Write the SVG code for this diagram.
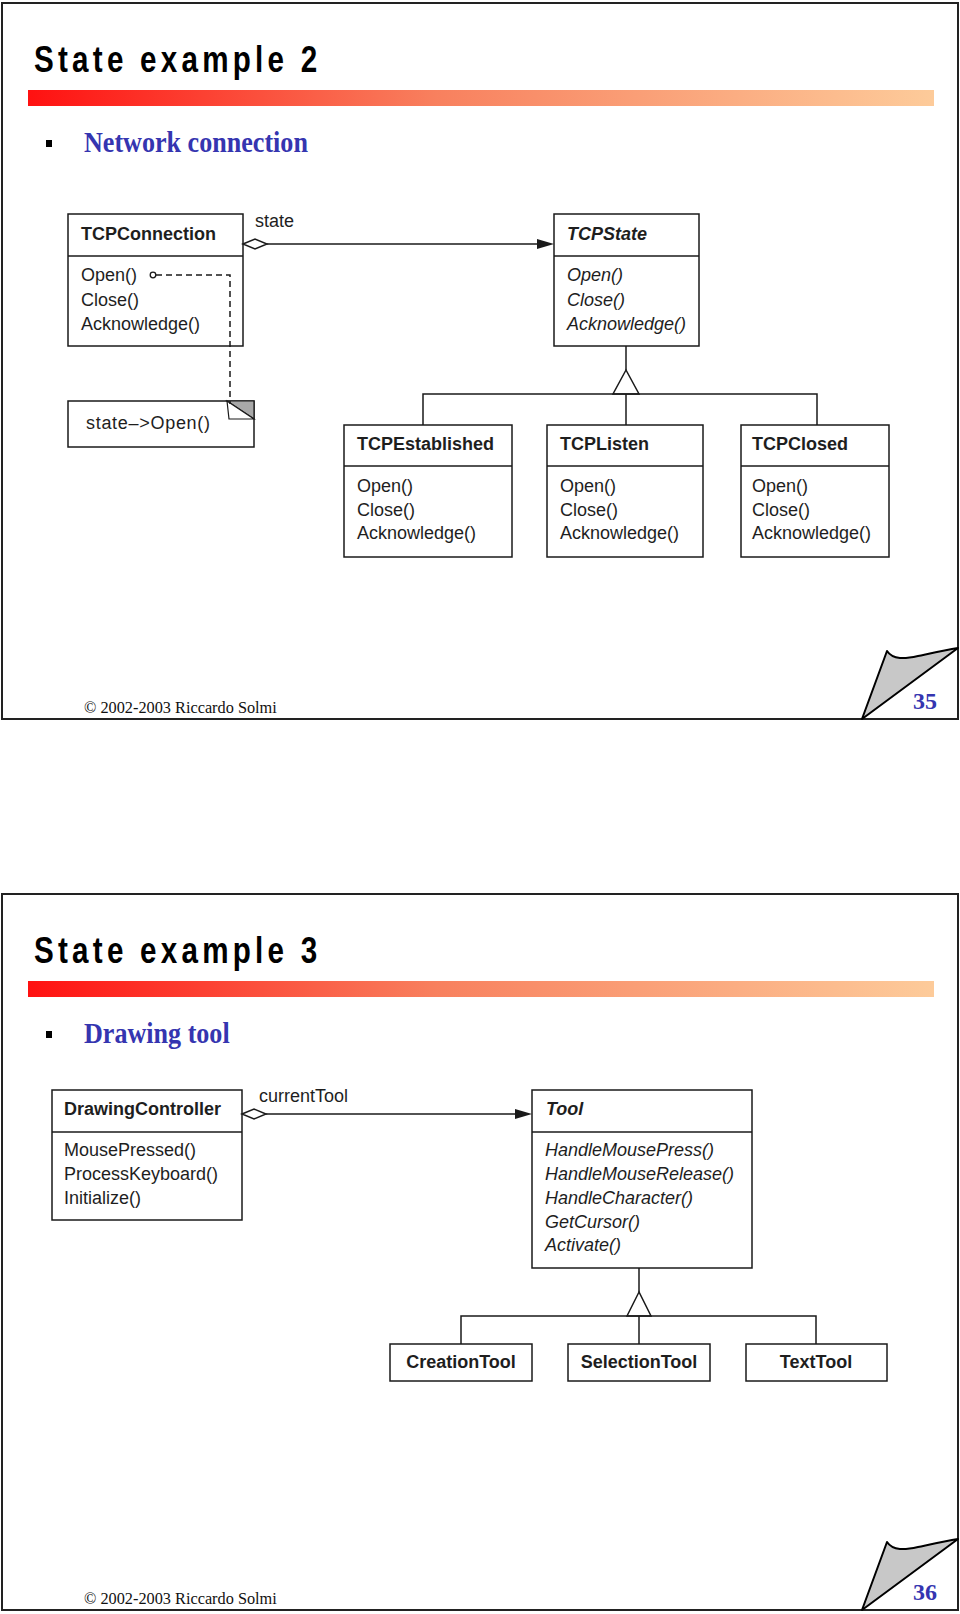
<svg xmlns="http://www.w3.org/2000/svg" width="960" height="1614" viewBox="0 0 960 1614">
<defs>
<linearGradient id="bar" x1="0" y1="0" x2="1" y2="0">
<stop offset="0" stop-color="#ff1111"/>
<stop offset="0.45" stop-color="#f8805e"/>
<stop offset="1" stop-color="#fdcb9a"/>
</linearGradient>
<style>
.frame{fill:#fff;stroke:#222;stroke-width:2}
.box{fill:#fff;stroke:#1a1a1a;stroke-width:1.5}
.ln{fill:none;stroke:#1a1a1a;stroke-width:1.5}
.dash{fill:none;stroke:#1a1a1a;stroke-width:1.5;stroke-dasharray:6 4}
.t{font-family:"Liberation Sans",Arial,sans-serif;font-size:18px;fill:#1e1e1e}
.b{font-weight:bold}
.i{font-style:italic}
.title{font-family:"Liberation Sans",Arial,sans-serif;font-weight:bold;font-size:37px;fill:#000}
.sub{font-family:"Liberation Serif","Times New Roman",serif;font-weight:bold;font-size:29px;fill:#3535b0}
.foot{font-family:"Liberation Serif","Times New Roman",serif;font-size:16.3px;fill:#111}
.pg{font-family:"Liberation Serif","Times New Roman",serif;font-weight:bold;font-size:24px;fill:#3535b0}
.curl{fill:#c8c8c8;stroke:#000;stroke-width:2;stroke-linejoin:round}
</style>
</defs>

<!-- Slide 1 -->
<g id="slide1">
<rect class="frame" x="2" y="3" width="956" height="716"/>
<g transform="translate(34,72) scale(0.8,1)"><text class="title" x="0" y="0" textLength="354" lengthAdjust="spacing">State example 2</text></g>
<rect x="28" y="90" width="906" height="16" fill="url(#bar)"/>
<rect x="46" y="140" width="6" height="7" fill="#000"/>
<g transform="translate(84,152) scale(0.9,1)"><text class="sub" x="0" y="0">Network connection</text></g>
<text class="foot" x="84" y="713">© 2002-2003 Riccardo Solmi</text>
<path class="curl" d="M862,719 L887,651 C893,660 905,659 918,656 C932,653 945,650 958,648 Z"/>
<text class="pg" x="913" y="709">35</text>
</g>

<g id="TCPConnection">
<rect class="box" x="68" y="214" width="175" height="132"/>
<line class="ln" x1="68" y1="256" x2="243" y2="256"/>
<text class="t b" x="81" y="240">TCPConnection</text>
<text class="t" x="81" y="281">Open()</text>
<text class="t" x="81" y="306">Close()</text>
<text class="t" x="81" y="330">Acknowledge()</text>
</g>

<g id="TCPState">
<rect class="box" x="554" y="214" width="145" height="132"/>
<line class="ln" x1="554" y1="256" x2="699" y2="256"/>
<text class="t b i" x="567" y="240">TCPState</text>
<text class="t i" x="567" y="281">Open()</text>
<text class="t i" x="567" y="306">Close()</text>
<text class="t i" x="567" y="330">Acknowledge()</text>
</g>

<g id="note">
<rect class="box" x="68" y="401" width="186" height="46"/>
<polygon points="227,401 254,401 254,419" fill="#a8a8a8" stroke="#1a1a1a" stroke-width="1.2"/>
<polygon points="227,401 229,419 254,419" fill="#fff" stroke="#1a1a1a" stroke-width="1.2"/>
<text class="t" x="86" y="429" textLength="124" lengthAdjust="spacing">state–&gt;Open()</text>
</g>

<g id="TCPEstablished">
<rect class="box" x="344" y="425" width="168" height="132"/>
<line class="ln" x1="344" y1="466" x2="512" y2="466"/>
<text class="t b" x="357" y="450">TCPEstablished</text>
<text class="t" x="357" y="492">Open()</text>
<text class="t" x="357" y="516">Close()</text>
<text class="t" x="357" y="539">Acknowledge()</text>
</g>

<g id="TCPListen">
<rect class="box" x="547" y="425" width="156" height="132"/>
<line class="ln" x1="547" y1="466" x2="703" y2="466"/>
<text class="t b" x="560" y="450">TCPListen</text>
<text class="t" x="560" y="492">Open()</text>
<text class="t" x="560" y="516">Close()</text>
<text class="t" x="560" y="539">Acknowledge()</text>
</g>

<g id="TCPClosed">
<rect class="box" x="741" y="425" width="148" height="132"/>
<line class="ln" x1="741" y1="466" x2="889" y2="466"/>
<text class="t b" x="752" y="450">TCPClosed</text>
<text class="t" x="752" y="492">Open()</text>
<text class="t" x="752" y="516">Close()</text>
<text class="t" x="752" y="539">Acknowledge()</text>
</g>

<!-- Slide 2 -->
<g id="slide2">
<rect class="frame" x="2" y="894" width="956" height="716"/>
<g transform="translate(34,963) scale(0.8,1)"><text class="title" x="0" y="0" textLength="354" lengthAdjust="spacing">State example 3</text></g>
<rect x="28" y="981" width="906" height="16" fill="url(#bar)"/>
<rect x="46" y="1031" width="6" height="7" fill="#000"/>
<g transform="translate(84,1043) scale(0.9,1)"><text class="sub" x="0" y="0">Drawing tool</text></g>
<text class="foot" x="84" y="1604">© 2002-2003 Riccardo Solmi</text>
<path class="curl" d="M862,1610 L887,1542 C893,1551 905,1550 918,1547 C932,1544 945,1541 958,1539 Z"/>
<text class="pg" x="913" y="1600">36</text>
</g>

<g id="DrawingController">
<rect class="box" x="52" y="1090" width="190" height="130"/>
<line class="ln" x1="52" y1="1132" x2="242" y2="1132"/>
<text class="t b" x="64" y="1115">DrawingController</text>
<text class="t" x="64" y="1156">MousePressed()</text>
<text class="t" x="64" y="1180">ProcessKeyboard()</text>
<text class="t" x="64" y="1204">Initialize()</text>
</g>

<g id="Tool">
<rect class="box" x="532" y="1090" width="220" height="178"/>
<line class="ln" x1="532" y1="1132" x2="752" y2="1132"/>
<text class="t b i" x="546" y="1115">Tool</text>
<text class="t i" x="545" y="1156">HandleMousePress()</text>
<text class="t i" x="545" y="1180">HandleMouseRelease()</text>
<text class="t i" x="545" y="1204">HandleCharacter()</text>
<text class="t i" x="545" y="1228">GetCursor()</text>
<text class="t i" x="545" y="1251">Activate()</text>
</g>

<g id="CreationTool">
<rect class="box" x="390" y="1344" width="142" height="37"/>
<text class="t b" x="461" y="1368" text-anchor="middle">CreationTool</text>
</g>
<g id="SelectionTool">
<rect class="box" x="568" y="1344" width="142" height="37"/>
<text class="t b" x="639" y="1368" text-anchor="middle">SelectionTool</text>
</g>
<g id="TextTool">
<rect class="box" x="746" y="1344" width="141" height="37"/>
<text class="t b" x="816" y="1368" text-anchor="middle">TextTool</text>
</g>

<g id="connectors">
<!-- slide 1 association -->
<polygon points="243,244 255,239 267,244 255,249" fill="#fff" stroke="#1a1a1a" stroke-width="1.5"/>
<line class="ln" x1="267" y1="244" x2="540" y2="244"/>
<polygon points="554,244 537,239 537,249" fill="#1a1a1a"/>
<text class="t" x="255" y="227">state</text>
<!-- dashed note link -->
<circle cx="153" cy="275" r="2.8" fill="#fff" stroke="#1a1a1a" stroke-width="1.3"/>
<polyline class="dash" points="156,275 230,275 230,404"/>
<!-- generalization 1 -->
<line class="ln" x1="626" y1="346" x2="626" y2="370"/>
<polygon points="626,370 613,394 639,394" fill="#fff" stroke="#1a1a1a" stroke-width="1.5"/>
<polyline class="ln" points="423,425 423,394 817,394 817,425"/>
<line class="ln" x1="626" y1="394" x2="626" y2="425"/>
<!-- slide 2 association -->
<polygon points="242,1114 254,1109 266,1114 254,1119" fill="#fff" stroke="#1a1a1a" stroke-width="1.5"/>
<line class="ln" x1="266" y1="1114" x2="518" y2="1114"/>
<polygon points="532,1114 515,1109 515,1119" fill="#1a1a1a"/>
<text class="t" x="259" y="1102">currentTool</text>
<!-- generalization 2 -->
<line class="ln" x1="639" y1="1268" x2="639" y2="1292"/>
<polygon points="639,1292 627,1316 651,1316" fill="#fff" stroke="#1a1a1a" stroke-width="1.5"/>
<polyline class="ln" points="461,1344 461,1316 816,1316 816,1344"/>
<line class="ln" x1="639" y1="1316" x2="639" y2="1344"/>
</g>
</svg>
